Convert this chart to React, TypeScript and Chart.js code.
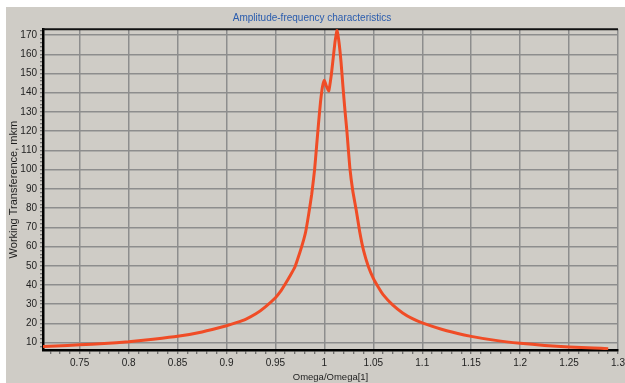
import React, { useEffect, useRef } from "react";
import { Chart, registerables } from "chart.js";

Chart.register(...registerables);

const omega: number[] = [
  0.7125, 0.725, 0.75, 0.775, 0.8, 0.825, 0.85, 0.875, 0.9, 0.91, 0.92, 0.93, 0.94, 0.95,
  0.955, 0.96, 0.965, 0.97, 0.975, 0.978, 0.981, 0.984, 0.987, 0.99, 0.992, 0.994, 0.996, 0.998, 1.0,
  1.002, 1.0045, 1.007, 1.009, 1.011, 1.013, 1.015, 1.017, 1.019, 1.021, 1.023, 1.026, 1.029,
  1.0325, 1.036, 1.04, 1.045, 1.05, 1.055, 1.06, 1.07, 1.08, 1.09, 1.1, 1.125, 1.15, 1.175, 1.2,
  1.225, 1.25, 1.275, 1.29,
];
const transference: number[] = [
  8.0, 8.3, 8.9, 9.6, 10.5, 11.8, 13.3, 15.6, 18.8, 20.4, 22.3, 25, 28.8, 33.4,
  36.5, 40.5, 44.8, 49.5, 57, 62, 68, 77, 87, 100, 112, 124, 135, 143, 146.5,
  143.5, 141, 149, 158, 167, 172.5, 166, 156, 143, 131, 120, 101, 89,
  79, 68, 58, 49.5, 43.5, 39, 35, 29.5, 25.5, 22.5, 20.3, 16.2, 13.3, 11.2, 9.7,
  8.6, 7.8, 7.2, 6.9,
];

const TITLE = "Amplitude-frequency characteristics";
const X_TITLE = "Omega/Omega[1]";
const Y_TITLE = "Working Transference, mkm";
const X_MIN = 0.7125;
const X_MAX = 1.3;
const Y_MIN = 6.2;
const Y_MAX = 173;

const GRID = "#8d8d8d";
const FONT = "'Liberation Sans', Arial, sans-serif";

const topBorder = {
  id: "topBorder",
  beforeDatasetsDraw(chart: any) {
    const { ctx, chartArea } = chart;
    ctx.save();
    ctx.strokeStyle = "#111";
    ctx.lineWidth = 2;
    ctx.beginPath();
    ctx.moveTo(chartArea.left, chartArea.top);
    ctx.lineTo(chartArea.right, chartArea.top);
    ctx.stroke();
    ctx.restore();
  },
};

export default function App() {
  const ref = useRef<HTMLCanvasElement | null>(null);
  useEffect(() => {
    if (!ref.current) return;
    const data = omega.map((x, i) => ({ x, y: transference[i] }));
    const chart = new Chart(ref.current, {
      type: "line",
      data: {
        datasets: [
          {
            data,
            borderColor: "#f04c26",
            borderWidth: 3,
            pointRadius: 0,
            tension: 0.15,
            fill: false,
          },
        ],
      },
      plugins: [topBorder],
      options: {
        animation: false,
        responsive: false,
        layout: { padding: { right: 7, left: 0, top: 0, bottom: 0 } },
        plugins: {
          legend: { display: false },
          tooltip: { enabled: false },
          title: {
            display: true,
            text: TITLE,
            color: "#2a5cae",
            font: { family: FONT, size: 10, weight: "normal" },
            padding: { top: 5.5, bottom: 4.8 },
          },
        },
        scales: {
          x: {
            type: "linear",
            min: X_MIN,
            max: X_MAX,
            afterFit: (s: any) => {
              s.height = 33;
              s.paddingLeft = 0;
              s.paddingRight = 0;
            },
            border: { color: "#000", width: 2.5 },
            grid: {
              color: (c: any) =>
                c.tick && Math.round(c.tick.value * 1000) % 50 === 0 ? GRID : "rgba(0,0,0,0)",
              lineWidth: 1.5,
              tickColor: "#555",
              tickLength: 4,
              tickWidth: 1,
            },
            ticks: {
              stepSize: 0.01,
              includeBounds: false,
              autoSkip: false,
              maxRotation: 0,
              minRotation: 0,
              padding: 3,
              color: "#1e1e1e",
              font: { family: FONT, size: 10 },
              callback: (v: any) => {
                const n = Math.round(Number(v) * 1000);
                return n % 50 === 0 ? String(n / 1000) : "";
              },
            },
            title: {
              display: true,
              text: X_TITLE,
              color: "#1e1e1e",
              font: { family: FONT, size: 9.5 },
              padding: { top: 0, bottom: 0 },
            },
          },
          y: {
            type: "linear",
            min: Y_MIN,
            max: Y_MAX,
            afterFit: (s: any) => {
              s.width = 37;
              s.paddingTop = 0;
              s.paddingBottom = 0;
            },
            border: { color: "#000", width: 2.5 },
            grid: {
              color: (c: any) =>
                c.tick && Math.round(c.tick.value) % 10 === 0 ? GRID : "rgba(0,0,0,0)",
              lineWidth: 1.5,
              tickColor: "#555",
              tickLength: 3,
              tickWidth: 1,
            },
            ticks: {
              stepSize: 2,
              includeBounds: false,
              autoSkip: false,
              padding: 3,
              color: "#1e1e1e",
              font: { family: FONT, size: 10 },
              callback: (v: any) => {
                const n = Math.round(Number(v));
                return n % 10 === 0 ? String(n) : "";
              },
            },
            title: {
              display: true,
              text: Y_TITLE,
              color: "#1e1e1e",
              font: { family: FONT, size: 11 },
              padding: { top: 1, bottom: 0 },
            },
          },
        },
      },
    });
    return () => chart.destroy();
  }, []);

  return (
    <div
      style={{
        position: "absolute",
        left: 0,
        top: 0,
        width: 625,
        height: 383,
        background: "#ffffff",
        overflow: "hidden",
      }}
    >
      <div
        style={{
          position: "absolute",
          left: 6,
          top: 7,
          width: 619,
          height: 376,
          background: "#cfccc6",
        }}
      >
        <canvas ref={ref} width={619} height={376} style={{ display: "block", width: 619, height: 376 }} />
      </div>
    </div>
  );
}
